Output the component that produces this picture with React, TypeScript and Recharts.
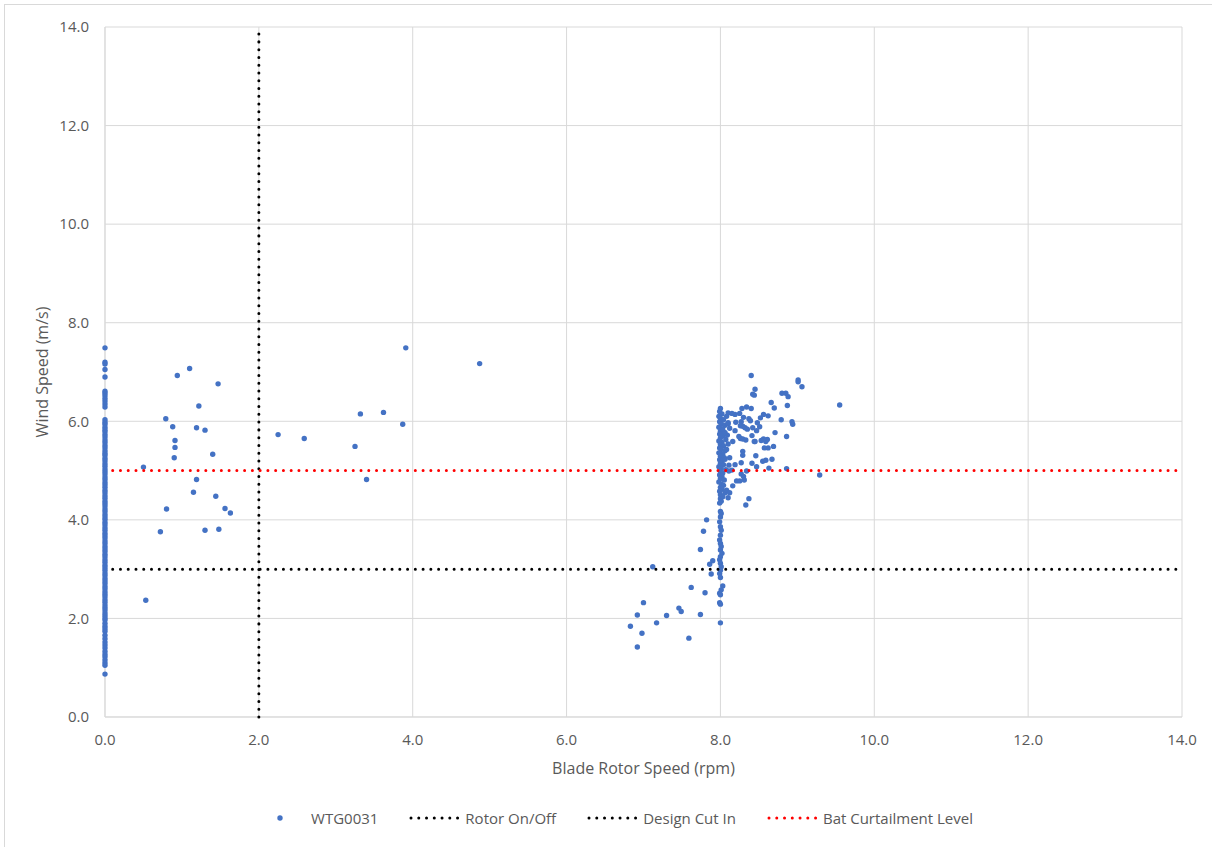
import { CartesianGrid, Label, Legend, Scatter, ScatterChart, XAxis, YAxis } from 'recharts'

// WTG0031 – rotor stopped (0 rpm), wind speed readings (m/s)
const idleWind = [
  7.49, 7.2, 7.16, 7.05, 6.9, 6.61, 6.57, 6.52, 6.46, 6.41, 6.35, 6.29, 6.03, 5.98, 5.94, 5.88, 5.83,
  5.79, 5.73, 5.68, 5.62, 5.57, 5.51, 5.46, 5.4, 5.35, 5.31, 5.25, 5.2, 5.14, 5.09, 5.03, 4.98, 4.93,
  4.87, 4.82, 4.76, 4.71, 4.66, 4.6, 4.55, 4.49, 4.44, 4.38, 4.33, 4.28, 4.22, 4.17, 4.11, 4.06, 4.01,
  3.95, 3.9, 3.84, 3.79, 3.73, 3.68, 3.63, 3.57, 3.52, 3.46, 3.41, 3.36, 3.3, 3.25, 3.19, 3.14, 3.08,
  3.03, 2.98, 2.92, 2.87, 2.81, 2.76, 2.71, 2.65, 2.6, 2.54, 2.49, 2.44, 2.38, 2.33, 2.27, 2.22, 2.17,
  2.11, 2.06, 2.01, 1.97, 1.9, 1.84, 1.79, 1.74, 1.66, 1.59, 1.52, 1.46, 1.4, 1.33, 1.27, 1.22, 1.16,
  1.1, 1.05, 0.87,
]

// [rotor rpm, wind m/s] while spinning up below 2 rpm and in the 2–5 rpm range
const slowPoints: Array<[number, number]> = [
  [0.5, 5.07], [0.94, 6.93], [1.1, 7.07], [1.47, 6.76], [1.22, 6.31], [0.79, 6.05], [0.88, 5.89],
  [1.19, 5.87], [1.3, 5.82], [0.91, 5.61], [0.91, 5.47], [0.9, 5.26], [1.4, 5.33], [1.19, 4.82],
  [1.15, 4.56], [1.44, 4.48], [0.8, 4.22], [1.56, 4.23], [1.63, 4.14], [0.72, 3.76], [1.3, 3.79],
  [1.48, 3.81], [0.53, 2.37], [2.25, 5.73], [2.59, 5.65], [3.25, 5.49], [3.32, 6.15], [3.62, 6.18],
  [3.87, 5.94], [3.91, 7.49], [4.87, 7.17], [3.4, 4.82],
]

// [rotor rpm, wind m/s] around normal operation (~8 rpm)
const runningPoints: Array<[number, number]> = [
  [6.83, 1.84], [6.92, 1.42], [6.98, 1.7], [6.92, 2.07], [7.0, 2.32], [7.17, 1.91], [7.3, 2.06],
  [7.46, 2.21], [7.49, 2.14], [7.59, 1.6], [7.62, 2.63], [7.74, 2.08], [7.8, 2.52], [7.12, 3.05],
  [7.74, 3.4], [7.78, 3.77], [7.82, 4.0], [7.86, 3.1], [7.9, 3.17], [7.88, 2.9],
  [8.0, 4.17], [8.01, 4.13], [8.0, 4.06], [7.99, 3.96], [8.0, 3.86], [8.01, 3.79], [8.0, 3.69],
  [7.99, 3.59], [8.0, 3.52], [8.01, 3.46], [8.0, 3.39], [8.02, 3.32], [8.0, 3.25], [7.99, 3.19],
  [8.0, 3.12], [8.01, 3.05], [8.0, 2.98], [7.99, 2.91], [8.0, 2.83], [8.03, 2.66], [8.01, 2.58],
  [7.99, 2.51], [8.0, 2.48], [7.99, 2.32], [8.0, 2.29], [8.0, 1.91],
  [8.0, 6.26], [7.99, 6.2], [8.02, 6.15], [7.98, 6.1], [8.0, 6.06], [8.04, 6.03], [7.99, 5.99],
  [8.01, 5.95], [8.06, 5.92], [7.98, 5.88], [8.02, 5.85], [8.0, 5.8], [8.05, 5.77], [7.99, 5.74],
  [8.03, 5.7], [8.0, 5.66], [8.07, 5.63], [7.98, 5.6], [8.02, 5.57], [8.0, 5.53], [8.04, 5.5],
  [7.99, 5.46], [8.01, 5.43], [8.06, 5.4], [7.98, 5.36], [8.03, 5.33], [8.0, 5.29], [8.05, 5.26],
  [7.99, 5.22], [8.02, 5.19], [8.0, 5.15], [8.04, 5.12], [7.98, 5.08], [8.01, 5.05], [8.07, 5.02],
  [8.0, 4.98], [8.03, 4.95], [7.99, 4.91], [8.02, 4.88], [8.0, 4.84], [8.05, 4.81], [7.98, 4.77],
  [8.01, 4.73], [8.04, 4.7], [8.0, 4.66], [8.02, 4.62], [7.99, 4.58], [8.06, 4.55], [8.0, 4.51],
  [8.03, 4.47], [8.0, 4.43], [8.01, 4.38], [7.99, 4.34], [8.08, 4.6], [8.1, 4.45], [8.09, 5.72],
  [8.1, 5.95], [8.08, 6.1],
  [8.4, 6.93], [8.45, 6.65], [8.42, 6.55], [8.44, 6.53], [8.66, 6.38], [8.7, 6.27], [8.8, 6.57],
  [8.85, 6.57], [8.88, 6.5], [8.87, 6.32], [9.01, 6.84], [9.01, 6.8], [9.06, 6.7], [9.55, 6.33],
  [8.79, 6.03], [8.93, 5.99], [8.94, 5.94], [8.86, 5.69], [8.86, 5.04], [9.29, 4.91], [8.71, 5.77],
  [8.67, 5.23], [8.63, 5.05], [8.59, 5.59], [8.61, 5.63], [8.69, 5.49], [8.56, 5.64], [8.62, 5.46],
  [8.57, 5.46], [8.62, 6.11], [8.56, 6.14], [8.52, 6.07], [8.48, 5.97], [8.47, 5.81], [8.51, 5.89],
  [8.53, 5.61], [8.45, 5.59], [8.46, 5.3], [8.55, 5.19], [8.59, 5.21], [8.47, 5.08], [8.41, 5.15],
  [8.4, 6.26], [8.34, 6.29], [8.28, 6.26], [8.25, 6.16], [8.19, 6.14], [8.15, 6.16], [8.1, 6.17],
  [8.3, 6.08], [8.37, 6.05], [8.39, 6.01], [8.27, 5.99], [8.2, 5.98], [8.1, 5.97], [8.26, 5.91],
  [8.29, 5.9], [8.32, 5.87], [8.35, 5.84], [8.42, 5.87], [8.12, 5.86], [8.19, 5.81], [8.24, 5.69],
  [8.26, 5.65], [8.29, 5.64], [8.33, 5.62], [8.41, 5.71], [8.44, 5.59], [8.16, 5.59], [8.1, 5.54],
  [8.08, 5.43], [8.29, 5.39], [8.29, 5.31], [8.12, 5.26], [8.06, 5.23], [8.27, 5.16], [8.19, 5.12],
  [8.11, 5.11], [8.34, 4.99], [8.15, 5.01], [8.11, 4.99], [8.27, 4.93], [8.3, 4.88], [8.21, 4.79],
  [8.25, 4.79], [8.31, 4.81], [8.16, 4.69], [8.12, 4.55], [8.37, 4.43], [8.33, 4.3], [8.06, 5.77],
  [8.03, 5.84],
]

// reference lines, [rpm, m/s] end points
const rotorOnOff: Array<[number, number]> = [[2, 0], [2, 14]]
const designCutIn: Array<[number, number]> = [[0.1, 3], [14, 3]]
const batCurtailment: Array<[number, number]> = [[0.1, 5], [14, 5]]

const axisTicks = [0, 2, 4, 6, 8, 10, 12, 14]

const FONT = '"Open Sans", sans-serif'
const BLUE = '#4472C4'
const GRID = '#d9d9d9'
const TEXT = '#595959'
const DOTS = '0.01 7.75'

const toXY = (pts: Array<[number, number]>) => pts.map(([x, y]) => ({ x, y }))

const wtgData = [...idleWind.map((y) => ({ x: 0, y })), ...toXY(slowPoints), ...toXY(runningPoints)]

const lineSeries = [
  { name: 'Rotor On/Off', color: '#000000', data: toXY(rotorOnOff) },
  { name: 'Design Cut In', color: '#000000', data: toXY(designCutIn) },
  { name: 'Bat Curtailment Level', color: '#ff0000', data: toXY(batCurtailment) },
]

const Dot = (props: any) => <circle cx={props.cx} cy={props.cy} r={2.7} fill={BLUE} />

function LegendBox() {
  return (
    <div
      style={{
        display: 'flex',
        justifyContent: 'center',
        alignItems: 'center',
        gap: 30,
        paddingLeft: 14,
        fontFamily: FONT,
        fontSize: 15,
        color: TEXT,
      }}
    >
      <div style={{ display: 'flex', alignItems: 'center', gap: 4 }}>
        <svg width={54} height={10}>
          <circle cx={27} cy={5} r={2.7} fill={BLUE} />
        </svg>
        <span>WTG0031</span>
      </div>
      {lineSeries.map((s) => (
        <div key={s.name} style={{ display: 'flex', alignItems: 'center', gap: 3 }}>
          <svg width={54} height={10}>
            <line
              x1={3}
              y1={5}
              x2={52}
              y2={5}
              stroke={s.color}
              strokeWidth={3}
              strokeLinecap="round"
              strokeDasharray={DOTS}
            />
          </svg>
          <span>{s.name}</span>
        </div>
      ))}
    </div>
  )
}

export default function App() {
  return (
    <div style={{ position: 'absolute', left: 0, top: 0, width: 1212, height: 847, background: '#fff' }}>
      <div
        style={{
          position: 'absolute',
          left: 4,
          top: 4,
          width: 1220,
          height: 860,
          border: `1px solid ${GRID}`,
          boxSizing: 'border-box',
        }}
      />
      <ScatterChart
        width={1212}
        height={847}
        margin={{ top: 27, right: 30, left: 0, bottom: 0 }}
        style={{ fontFamily: FONT }}
      >
        <CartesianGrid stroke={GRID} strokeWidth={1} />
        <XAxis
          type="number"
          dataKey="x"
          domain={[0, 14]}
          ticks={axisTicks}
          tickFormatter={(v: number) => v.toFixed(1)}
          height={130}
          axisLine={{ stroke: GRID }}
          tickLine={false}
          tickSize={0}
          tickMargin={17}
          tick={{ fill: TEXT, fontSize: 15 }}
        >
          <Label
            value="Blade Rotor Speed (rpm)"
            position="insideTop"
            offset={46}
            style={{ fill: TEXT, fontSize: 16 }}
          />
        </XAxis>
        <YAxis
          type="number"
          dataKey="y"
          domain={[0, 14]}
          ticks={axisTicks}
          tickFormatter={(v: number) => v.toFixed(1)}
          width={105}
          axisLine={{ stroke: GRID }}
          tickLine={false}
          tickSize={0}
          tickMargin={16}
          tick={{ fill: TEXT, fontSize: 15 }}
        >
          <Label
            value="Wind Speed (m/s)"
            position="center"
            angle={-90}
            dx={-10}
            style={{ fill: TEXT, fontSize: 16, textAnchor: 'middle' }}
          />
        </YAxis>
        <Scatter name="WTG0031" data={wtgData} shape={Dot} isAnimationActive={false} />
        {lineSeries.map((s) => (
          <Scatter
            key={s.name}
            name={s.name}
            data={s.data}
            shape={() => <g />}
            line={{
              stroke: s.color,
              strokeWidth: 3,
              strokeLinecap: 'round',
              strokeDasharray: DOTS,
              fill: 'none',
            }}
            isAnimationActive={false}
          />
        ))}
        <Legend
          layout="horizontal"
          align="center"
          verticalAlign="middle"
          wrapperStyle={{ top: 808, left: 0, width: 1212 }}
          content={() => <LegendBox />}
        />
      </ScatterChart>
    </div>
  )
}
